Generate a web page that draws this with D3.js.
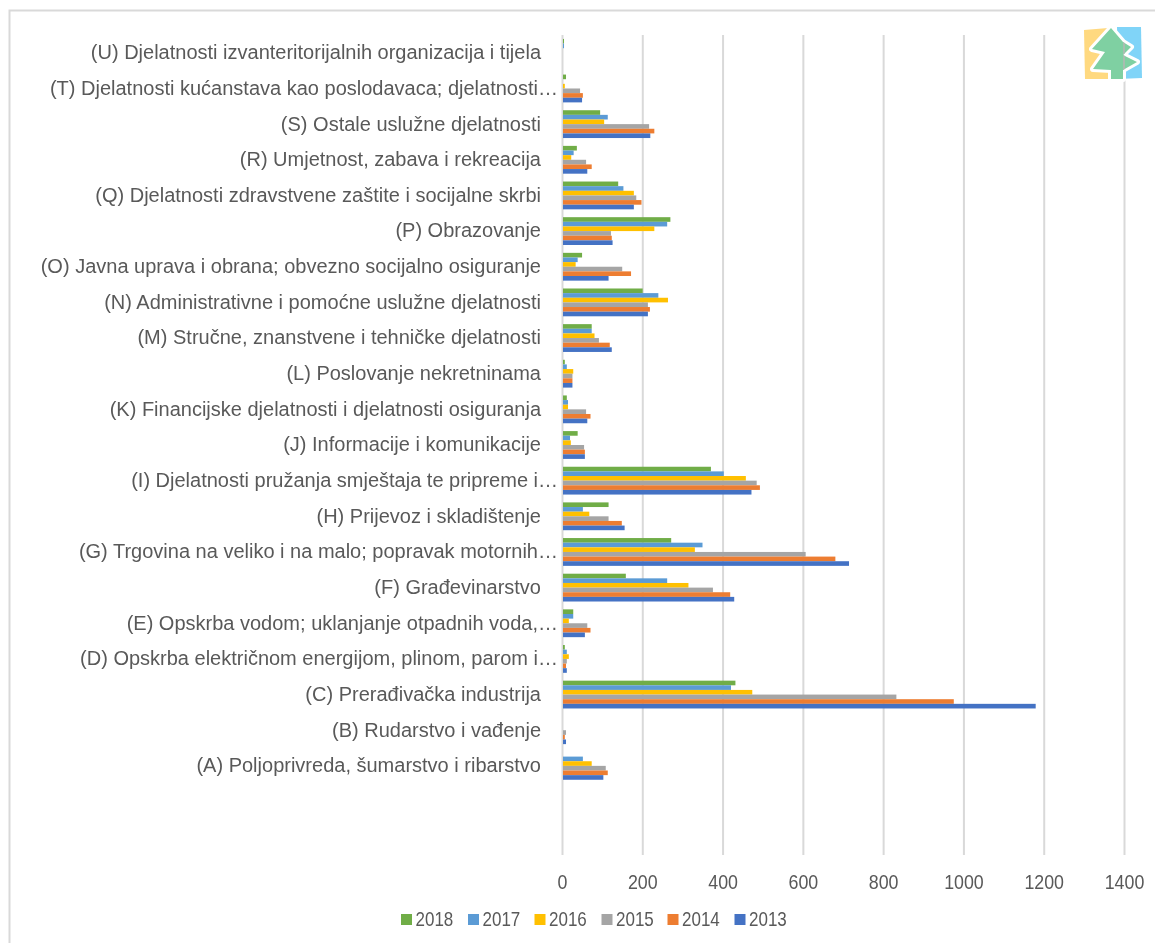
<!DOCTYPE html>
<html>
<head>
<meta charset="utf-8">
<script src="https://cdn.jsdelivr.net/npm/d3@7"></script>
<style>
  html, body { margin: 0; padding: 0; background: #fff; }
  svg { display: block; font-family: "Liberation Sans", Arial, sans-serif; filter: blur(0.35px); }
</style>
</head>
<body>
<svg id="chart" width="1155" height="943"></svg>
<script>
// top to bottom as in the picture, the two blank rows leave the gap above the axis labels
const categories = [
  "(U) Djelatnosti izvanteritorijalnih organizacija i tijela",
  "(T) Djelatnosti kućanstava kao poslodavaca; djelatnosti…",
  "(S) Ostale uslužne djelatnosti",
  "(R) Umjetnost, zabava i rekreacija",
  "(Q) Djelatnosti zdravstvene zaštite i socijalne skrbi",
  "(P) Obrazovanje",
  "(O) Javna uprava i obrana; obvezno socijalno osiguranje",
  "(N) Administrativne i pomoćne uslužne djelatnosti",
  "(M) Stručne, znanstvene i tehničke djelatnosti",
  "(L) Poslovanje nekretninama",
  "(K) Financijske djelatnosti i djelatnosti osiguranja",
  "(J) Informacije i komunikacije",
  "(I) Djelatnosti pružanja smještaja te pripreme i…",
  "(H) Prijevoz i skladištenje",
  "(G) Trgovina na veliko i na malo; popravak motornih…",
  "(F) Građevinarstvo",
  "(E) Opskrba vodom; uklanjanje otpadnih voda,…",
  "(D) Opskrba električnom energijom, plinom, parom i…",
  "(C) Prerađivačka industrija",
  "(B) Rudarstvo i vađenje",
  "(A) Poljoprivreda, šumarstvo i ribarstvo"
];
const blankRows = [" ", "  "];
const years = ["2018", "2017", "2016", "2015", "2014", "2013"];
const colors = ["#70AD47", "#5B9BD5", "#FFC000", "#A5A5A5", "#ED7D31", "#4472C4"];
const xTicks = [0, 200, 400, 600, 800, 1000, 1200, 1400];

// one list per year, same order as categories
const v2018 = [5, 10, 95, 37, 140, 270, 50, 201, 74, 7, 12, 39, 371, 116, 272, 159, 28, 7, 432, 0, 0];
const v2017 = [5, 0, 114, 29, 153, 262, 39, 240, 74, 12, 15, 20, 403, 52, 350, 262, 28, 12, 421, 0, 52];
const v2016 = [0, 7, 105, 23, 179, 230, 34, 264, 81, 28, 15, 22, 458, 68, 331, 315, 17, 17, 474, 0, 74];
const v2015 = [0, 45, 217, 60, 185, 122, 150, 214, 92, 26, 60, 55, 485, 116, 607, 376, 63, 12, 833, 10, 109];
const v2014 = [0, 52, 230, 74, 198, 124, 172, 219, 119, 26, 71, 57, 493, 149, 681, 419, 71, 10, 976, 7, 114];
const v2013 = [0, 50, 220, 63, 179, 126, 116, 214, 124, 26, 63, 57, 472, 156, 715, 429, 57, 12, 1180, 10, 103];
const seriesValues = [v2018, v2017, v2016, v2015, v2014, v2013];

const MARGIN = { top: 35, left: 562, right: 1124, bottom: 855 };
const TEXT_COLOR = "#595959";
const GRID_COLOR = "#D9D9D9";
const FONT_SIZE = 20;
// digits in the picture are narrower than the font
const TICK_SQUEEZE = 0.89;
const LEGEND_SQUEEZE = 0.85;

const svg = d3.select("#chart");

// Frame
svg.append("rect")
  .attr("x", 9.5).attr("y", 10.5)
  .attr("width", 1160).attr("height", 960)
  .attr("fill", "#fff")
  .attr("stroke", GRID_COLOR)
  .attr("stroke-width", 2);

const x = d3.scaleLinear().domain([0, 1400]).range([MARGIN.left, MARGIN.right]);
const y = d3.scaleBand()
  .domain(categories.concat(blankRows))
  .range([MARGIN.top, MARGIN.bottom])
  .paddingInner(0.22)
  .paddingOuter(0.11);
const y1 = d3.scaleBand().domain(years).range([0, y.bandwidth()]);

// Gridlines
const xAxis = d3.axisBottom(x)
  .tickValues(xTicks)
  .tickFormat(d3.format("d"))
  .tickSize(-(MARGIN.bottom - MARGIN.top))
  .tickPadding(20);
const xGroup = svg.append("g")
  .attr("transform", `translate(0, ${MARGIN.bottom})`)
  .call(xAxis);
xGroup.select(".domain").remove();
xGroup.selectAll("line").attr("stroke", GRID_COLOR).attr("stroke-width", 2);
xGroup.selectAll("text")
  .attr("fill", TEXT_COLOR)
  .attr("font-size", FONT_SIZE)
  .attr("font-family", "Liberation Sans")
  .attr("transform", `scale(${TICK_SQUEEZE}, 1)`);

// Bars
years.forEach((year, s) => {
  svg.append("g")
    .selectAll("rect")
    .data(seriesValues[s])
    .join("rect")
    .attr("x", x(0) + 1)
    .attr("y", (_, i) => y(categories[i]) + y1(year))
    .attr("width", d => Math.max(0, x(d) - x(0) - 1))
    .attr("height", y1.bandwidth())
    .attr("fill", colors[s]);
});

// Category labels, the cut off ones run past the label edge with their dots
const yAxis = d3.axisLeft(y)
  .tickValues(categories)
  .tickSize(0)
  .tickPadding(21);
const yGroup = svg.append("g")
  .attr("transform", `translate(${MARGIN.left}, 0)`)
  .call(yAxis);
yGroup.select(".domain").remove();
yGroup.selectAll("text")
  .attr("fill", TEXT_COLOR)
  .attr("font-size", FONT_SIZE)
  .attr("font-family", "Liberation Sans")
  .attr("dx", d => (d.endsWith("…") ? 17 : 0));

// Legend
const legendStep = [400, 467, 533.5, 600.5, 666.5, 733.5];
const legend = svg.append("g")
  .selectAll("g")
  .data(years)
  .join("g")
  .attr("transform", (_, i) => `translate(${legendStep[i]}, 919)`);
legend.append("rect")
  .attr("x", 1).attr("y", -5)
  .attr("width", 11).attr("height", 11)
  .attr("fill", (_, i) => colors[i]);
legend.append("text")
  .attr("transform", `translate(15.5, 7) scale(${LEGEND_SQUEEZE}, 1)`)
  .attr("fill", TEXT_COLOR)
  .attr("font-size", FONT_SIZE)
  .text(d => d);

// Logo
const treeOutline = "M1111 28 L1123 42 L1131 47 L1123 55 L1137 62 L1123 70 L1123 79 L1111 79 L1111 70 L1093 69 L1105 52 L1092 49 Z";
const logo = svg.append("g");
logo.append("path").attr("d", "M1084 30 L1108 28 L1108 79 L1085 79 Z").attr("fill", "#FFD980");
logo.append("path").attr("d", "M1117 27 L1141 27 L1142 78 L1118 79 Z").attr("fill", "#80D4F8");
logo.append("path").attr("d", treeOutline)
  .attr("fill", "#7FD0A2")
  .attr("stroke", "#fff")
  .attr("stroke-width", 6)
  .attr("stroke-linejoin", "round")
  .style("paint-order", "stroke");
svg.append("clipPath").attr("id", "tree-clip").append("path").attr("d", treeOutline);
logo.append("line")
  .attr("x1", x(1400)).attr("x2", x(1400))
  .attr("y1", MARGIN.top).attr("y2", 80)
  .attr("stroke", "#A8BDB0").attr("stroke-width", 2)
  .attr("clip-path", "url(#tree-clip)");
</script>
</body>
</html>
